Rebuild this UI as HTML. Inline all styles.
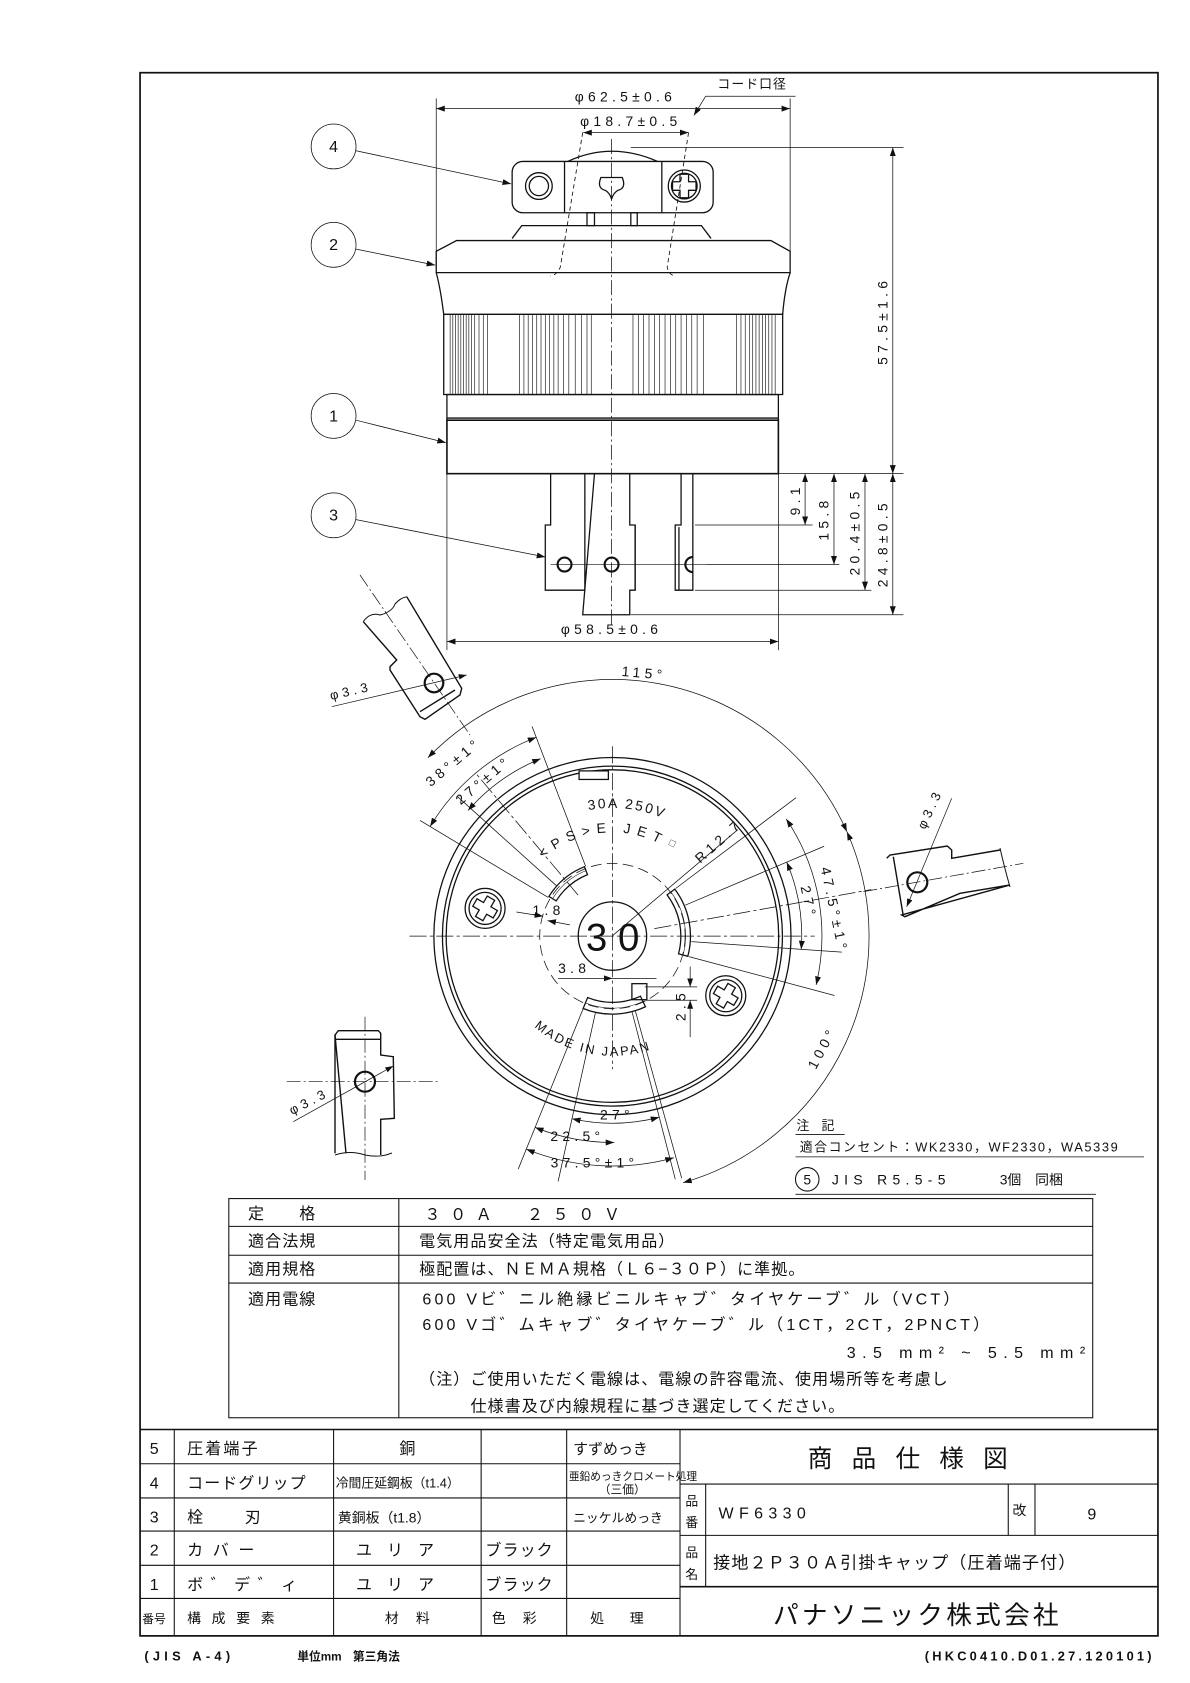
<!DOCTYPE html>
<html><head><meta charset="utf-8"><style>
html,body{margin:0;padding:0;background:#fff}
svg{display:block}
text{font-family:"Liberation Sans","Noto Sans CJK JP",sans-serif;fill:#111}
.d{font-size:13px;letter-spacing:4px}
.t{font-size:15px;letter-spacing:1px}
</style></head><body>
<svg width="1190" height="1683" viewBox="0 0 1190 1683" xmlns="http://www.w3.org/2000/svg">
<defs>
<marker id="a" viewBox="0 0 10 10" refX="10" refY="5" markerWidth="8" markerHeight="8" markerUnits="userSpaceOnUse" orient="auto-start-reverse"><path d="M0,1.5 L10,5 L0,8.5 z" fill="#111"/></marker>
<path id="pj" d="M475.8,931.5 A112,112 0 0 0 669.8,931.5"/>
<path id="p30" d="M488,790.7 A120,120 0 0 1 657.6,790.7"/>
<path id="pps" d="M498.5,813.1 A97,97 0 0 1 647.1,813.1"/>
</defs>
<g transform="scale(1.0692)" fill="none" stroke="#111" stroke-width="1">
<rect x="131" y="68" width="952" height="1462" stroke-width="1.6"/>

<g stroke-width="1.2">
<path d="M531,151 Q572,132 615,151"/>
<rect x="479" y="151" width="188" height="48" rx="10"/>
<line x1="528" y1="151" x2="528" y2="199"/><line x1="619" y1="151" x2="619" y2="199"/>
<circle cx="504" cy="174" r="12.5"/><circle cx="504" cy="174" r="9"/>
<circle cx="640" cy="174" r="15"/><circle cx="640" cy="174" r="12"/>
<path d="M636,163 h8 v7 h7 v8 h-7 v7 h-8 v-7 h-7 v-8 h7 z"/>
<path d="M562,166 Q558,176 566,178 Q570,180 572,186 Q574,180 578,178 Q586,176 582,166 z"/>
<rect x="549" y="199" width="7" height="12"/><rect x="590" y="199" width="6" height="12"/>
<path d="M479,223 L488,211 L656,211 L665,223"/>
<path d="M408,255 L408,235 L427,225 L721,225 L739,235 L739,255 Z"/>
<path d="M408,255 Q412,270 415,294 L732,294 Q734,270 739,255"/>
<rect x="415" y="294" width="317" height="75"/>
<rect x="418" y="369" width="310" height="24"/>
<line x1="418" y1="391" x2="728" y2="391"/>
<rect x="418" y="393" width="310" height="50" stroke-width="1.5"/>
</g>
<g stroke-width="0.6">
<path d="M421,294v75M423.5,294v75M426,294v75M428.5,294v75M431,294v75M433.5,294v75M436,294v75M438.5,294v75M441,294v75M444,294v75M448,294v75M452,294v75M456,294v75
M486,294v75M490,294v75M494,294v75M498,294v75M502,294v75M506,294v75M510,294v75M514,294v75M518,294v75M522,294v75M527,294v75M532,294v75M538,294v75M544,294v75M549,294v75M553,294v75
M592,294v75M597,294v75M602,294v75M607,294v75M612,294v75M617,294v75M622,294v75M627,294v75M632,294v75M637,294v75M642,294v75M647,294v75M652,294v75M658,294v75
M689,294v75M693,294v75M697,294v75M701,294v75M704,294v75M707,294v75M710,294v75M713,294v75M716,294v75M719,294v75M722,294v75M725,294v75"/>
</g>
<path d="M545,124 L524,250 Q520,258 515,258" stroke-dasharray="4,3" stroke-width="0.8"/>
<path d="M644,124 L624,250 Q626,258 632,258" stroke-dasharray="4,3" stroke-width="0.8"/>
<line x1="572" y1="130" x2="572" y2="585" stroke-dasharray="14,3,2,3" stroke-width="0.7"/>
<g stroke-width="1.2">
<path d="M515,443 V491 H510 V552 H547 V443"/>
<path d="M556,443 L545,575 H589 V552 H594 V491 H589 V443"/>
<line x1="594" y1="491" x2="594" y2="552"/>
<path d="M637,443 V491 H631.5 V552 H648 V443"/>
<line x1="635" y1="493" x2="635" y2="552"/>
<circle cx="528" cy="528" r="6.5" stroke-width="2"/>
<circle cx="572" cy="528" r="6.5" stroke-width="2"/>
<path d="M648,521 A7,7 0 0 0 648,535" stroke-width="2"/>
</g>
<line x1="515" y1="528" x2="660" y2="528" stroke-width="0.6"/>
<g stroke-width="0.7">
<line x1="408" y1="92" x2="408" y2="250"/><line x1="739" y1="92" x2="739" y2="250"/>
<line x1="408" y1="101.6" x2="739" y2="101.6" marker-start="url(#a)" marker-end="url(#a)"/>
<line x1="545.5" y1="124" x2="644" y2="124" marker-start="url(#a)" marker-end="url(#a)"/>
<path d="M744,90 H660 L649,108" marker-end="url(#a)"/>
<line x1="590" y1="138" x2="845" y2="138"/><line x1="720" y1="443" x2="845" y2="443"/>
<line x1="835" y1="138" x2="835" y2="443" marker-start="url(#a)" marker-end="url(#a)"/>
<line x1="418" y1="443" x2="418" y2="608"/><line x1="728" y1="443" x2="728" y2="608"/>
<line x1="418" y1="600" x2="728" y2="600" marker-start="url(#a)" marker-end="url(#a)"/>
<line x1="650" y1="491" x2="760" y2="491"/><line x1="660" y1="528" x2="785" y2="528"/>
<line x1="650" y1="552" x2="815" y2="552"/><line x1="590" y1="575" x2="845" y2="575"/>
<line x1="753" y1="443" x2="753" y2="491" marker-start="url(#a)" marker-end="url(#a)"/>
<line x1="780" y1="443" x2="780" y2="528" marker-start="url(#a)" marker-end="url(#a)"/>
<line x1="809" y1="443" x2="809" y2="552" marker-start="url(#a)" marker-end="url(#a)"/>
<line x1="835" y1="443" x2="835" y2="575" marker-start="url(#a)" marker-end="url(#a)"/>
<circle cx="312" cy="137" r="21"/><circle cx="312" cy="229" r="21"/><circle cx="312" cy="389" r="21"/><circle cx="312" cy="482" r="21"/>
<line x1="333" y1="141" x2="478" y2="172" marker-end="url(#a)"/>
<line x1="333" y1="233" x2="407" y2="248" marker-end="url(#a)"/>
<line x1="333" y1="393" x2="417" y2="414" marker-end="url(#a)"/>
<line x1="333" y1="486" x2="510" y2="521" marker-end="url(#a)"/>
</g>

<g stroke-width="1.2">
<circle cx="572.8" cy="875.5" r="167"/>
<circle cx="572.8" cy="875.5" r="159"/>
<circle cx="572.8" cy="875.5" r="155.5"/>
<rect x="541.6" y="721" width="27.4" height="8" fill="#fff"/>
<circle cx="572.8" cy="875.5" r="32"/>
<path d="M513.4,838.4 A70,70 0 0 1 546.6,810.6 L549.5,818 A62,62 0 0 0 520.2,842.6 Z"/>
<path d="M631.1,831.6 A73,73 0 0 1 643.3,894.4 L634.6,892.1 A64,64 0 0 0 623.9,837 Z"/>
<path d="M603.7,941.6 A73,73 0 0 1 545.4,943.2 L549.6,933 A62,62 0 0 0 599,931.7 Z"/>
<rect x="591" y="920" width="14" height="15"/>
<circle cx="453.7" cy="849.6" r="18.7"/><circle cx="453.7" cy="849.6" r="15"/>
<path d="M449.7,838.6 h8 v7 h7 v8 h-7 v7 h-8 v-7 h-7 v-8 h7 z" transform="rotate(30 453.7 849.6)"/>
<circle cx="678.8" cy="931.3" r="18.7"/><circle cx="678.8" cy="931.3" r="15"/>
<path d="M674.8,920.3 h8 v7 h7 v8 h-7 v7 h-8 v-7 h-7 v-8 h7 z" transform="rotate(30 678.8 931.3)"/>
</g>
<g stroke-width="0.5">
<path d="M516.8,840.5 A66,66 0 0 1 548,814.3"/><path d="M627.5,834.3 A68.5,68.5 0 0 1 639,893"/><path d="M601.4,936.6 A67.5,67.5 0 0 1 547.5,938"/>
</g>
<circle cx="572.8" cy="875.5" r="68" stroke-dasharray="10,5" stroke-width="0.7"/>
<g stroke-width="0.7" stroke-dasharray="16,3,3,3">
<line x1="383" y1="875.5" x2="762" y2="875.5"/><line x1="572.8" y1="698" x2="572.8" y2="1000"/>
<line x1="540.7" y1="837.2" x2="444.2" y2="722.3"/>
<line x1="612" y1="868.5" x2="815" y2="832"/>
</g>
<g stroke-width="0.7">
<path d="M400.2,708.7 A240,240 0 0 1 792.1,777.9" marker-start="url(#a)" marker-end="url(#a)"/>
<path d="M792.1,777.9 A240,240 0 0 1 639,1106.1" marker-start="url(#a)" marker-end="url(#a)"/>
<line x1="512.8" y1="839.4" x2="392.8" y2="767.3"/><line x1="520.8" y1="828.7" x2="427.9" y2="745"/><line x1="547.7" y1="810.2" x2="497.6" y2="679.4"/>
<path d="M402.3,773 A199,199 0 0 1 501.6,689.6" marker-start="url(#a)" marker-end="url(#a)"/>
<path d="M437.7,758.1 A179,179 0 0 1 505.7,709.6" marker-start="url(#a)" marker-end="url(#a)"/>
<line x1="631.9" y1="831" x2="744.5" y2="746.1"/><line x1="640.9" y1="846.6" x2="770.8" y2="791.5"/><line x1="646.6" y1="880.7" x2="787.3" y2="890.5"/><line x1="644.3" y1="894.7" x2="780.5" y2="931.1"/>
<path d="M735.3,765.9 A196,196 0 0 1 763.3,921.2" marker-start="url(#a)" marker-end="url(#a)"/>
<path d="M735.8,806.3 A177,177 0 0 1 749.4,887.9" marker-start="url(#a)" marker-end="url(#a)"/>
<line x1="545.5" y1="943.2" x2="484.7" y2="1093.4"/><line x1="557" y1="946.7" x2="522" y2="1104.9"/><line x1="591.1" y1="946.2" x2="631.6" y2="1103"/><line x1="594.3" y1="945.8" x2="637.6" y2="1102"/>
<path d="M630.2,1082.8 A215,215 0 0 1 492.2,1074.8" marker-start="url(#a)" marker-end="url(#a)"/>
<path d="M574.5,1068.5 A193,193 0 0 1 500.4,1054.4" marker-start="url(#a)" marker-end="url(#a)"/>
<path d="M616.6,1044.9 A175,175 0 0 1 535,1046.3" marker-start="url(#a)" marker-end="url(#a)"/>
<line x1="573" y1="875" x2="690" y2="776"/>
<line x1="483" y1="853" x2="508" y2="857" marker-end="url(#a)"/><line x1="533" y1="865" x2="512" y2="861" marker-end="url(#a)"/>
<line x1="522" y1="915" x2="572.8" y2="915" marker-end="url(#a)"/><line x1="572.8" y1="915" x2="614" y2="915"/>
<line x1="603" y1="923" x2="652" y2="923"/><line x1="603" y1="935.5" x2="652" y2="935.5"/>
<line x1="645.5" y1="904" x2="645.5" y2="923" marker-end="url(#a)"/><line x1="645.5" y1="970" x2="645.5" y2="935.5" marker-end="url(#a)"/>
</g>
</g>

<g fill="none" stroke="#111" stroke-width="1.4">
<path d="M363.3,621.7 L396.7,660 L390,666.7 L390,670 L420,716.7 L425,719.3 L460,695 L461.7,688.3 L406.7,596.7"/>
<path d="M363.3,621.7 Q370,612 380,615 Q392,612 395,604 Q400,598 406.7,596.7" stroke-width="1"/>
<line x1="420" y1="711.7" x2="455" y2="690"/>
<circle cx="434" cy="683" r="9.3" stroke-width="2.2"/>
<path d="M886.7,858.3 L890,855 L947.3,846 L951.7,850 L951.7,858.3 L1000,850 M1010,885 L960,893.3 L905,916.7 L901.7,915 Z"/>
<path d="M1000,848 Q1004,866 1010,887" stroke-width="1"/>
<line x1="893.3" y1="856.7" x2="903.3" y2="916"/>
<circle cx="917.3" cy="882.3" r="10" stroke-width="2.2"/>
<path d="M335,1153.3 L335,1035 L338.3,1030.7 L378.3,1030.7 L380.7,1033.3 L380.7,1055 L393.3,1056.7 L394.3,1118.3 L380.7,1119.3 L380.7,1155"/>
<path d="M335,1035 L346,1153.3"/>
<path d="M335,1155 Q350,1150 365,1155 Q380,1158 392,1153" stroke-width="1"/>
<line x1="336" y1="1039.3" x2="380" y2="1039.3"/>
<circle cx="365" cy="1081.7" r="10" stroke-width="2.2"/>
</g>
<g fill="none" stroke="#111" stroke-width="0.7">
<line x1="360" y1="575" x2="470" y2="735" stroke-dasharray="14,3,2,3"/>
<line x1="331.7" y1="706.7" x2="466.7" y2="675" marker-end="url(#a)"/>
<line x1="863.3" y1="891.7" x2="1023.3" y2="863.3" stroke-dasharray="14,3,2,3"/>
<line x1="951.7" y1="798.3" x2="906.7" y2="906.7" marker-end="url(#a)"/>
<line x1="286.7" y1="1081.7" x2="440" y2="1081.7" stroke-dasharray="14,3,2,3"/>
<line x1="365" y1="1016.7" x2="365" y2="1180" stroke-dasharray="14,3,2,3"/>
<line x1="293.3" y1="1121.7" x2="393.3" y2="1066" marker-end="url(#a)"/>
</g>
<text class="d" x="331" y="700" transform="rotate(-13 331 700)">φ3.3</text>
<text class="d" x="925" y="830" transform="rotate(-65 925 830)">φ3.3</text>
<text class="d" x="292" y="1115" transform="rotate(-27 292 1115)">φ3.3</text>

<g transform="scale(1.0692)">
<text class="d" x="585" y="95" text-anchor="middle">φ62.5±0.6</text>
<text class="d" x="590" y="118" text-anchor="middle">φ18.7±0.5</text>
<text x="671" y="83" style="font-size:12px;letter-spacing:1px">コード口径</text>
<text class="d" x="572" y="593" text-anchor="middle">φ58.5±0.6</text>
<text class="d" x="830" y="300" text-anchor="middle" transform="rotate(-90 830 300)">57.5±1.6</text>
<text class="d" x="748" y="467" text-anchor="middle" transform="rotate(-90 748 467)">9.1</text>
<text class="d" x="775" y="485" text-anchor="middle" transform="rotate(-90 775 485)">15.8</text>
<text class="d" x="804" y="497" text-anchor="middle" transform="rotate(-90 804 497)">20.4±0.5</text>
<text class="d" x="830" y="508" text-anchor="middle" transform="rotate(-90 830 508)">24.8±0.5</text>
<g style="font-size:15px" text-anchor="middle"><text x="312" y="142">4</text><text x="312" y="234">2</text><text x="312" y="394">1</text><text x="312" y="487">3</text></g>
<text class="d" x="602" y="634" text-anchor="middle" transform="rotate(5 602 634)">115°</text>
<text class="d" x="427" y="716" text-anchor="middle" transform="rotate(-40 427 716)">38°±1°</text>
<text class="d" x="455" y="733" text-anchor="middle" transform="rotate(-40 455 733)">27°±1°</text>
<text style="font-size:13px;letter-spacing:2px"><textPath href="#p30" startOffset="38%">30A 250V</textPath></text>
<text style="font-size:13px;letter-spacing:6px"><textPath href="#pps" startOffset="8%">&lt;PS&gt;E JET</textPath></text>
<text class="d" x="655" y="808" transform="rotate(-42 655 808)">R12.7</text>
<text style="font-size:8px" x="626" y="793" transform="rotate(-20 626 793)">◇</text>
<text class="d" x="498" y="856">1.8</text>
<text class="d" x="522" y="910">3.8</text>
<text class="d" x="641" y="955" transform="rotate(-90 641 955)">2.5</text>
<text style="font-size:12px;letter-spacing:2px"><textPath href="#pj" startOffset="16%">MADE IN JAPAN</textPath></text>
<text style="font-size:36px;letter-spacing:10px" x="578" y="889" text-anchor="middle">30</text>
<text class="d" x="776" y="852" text-anchor="middle" transform="rotate(78 776 852)">47.5°±1°</text>
<text class="d" x="752" y="845" text-anchor="middle" transform="rotate(78 752 845)">27°</text>
<text class="d" x="773" y="982" text-anchor="middle" transform="rotate(-62 773 982)">100°</text>
<text class="d" x="577" y="1047" text-anchor="middle">27°</text>
<text class="d" x="540" y="1067" text-anchor="middle">22.5°</text>
<text class="d" x="556" y="1092" text-anchor="middle">37.5°±1°</text>
<text x="745" y="1057" style="font-size:12px;letter-spacing:4px">注 記</text>
<line x1="744" y1="1061" x2="790" y2="1061" stroke="#111" stroke-width="0.8"/>
<text x="748" y="1077" style="font-size:12px;letter-spacing:1.5px">適合コンセント：WK2330，WF2330，WA5339</text>
<line x1="744" y1="1082" x2="1070" y2="1082" stroke="#111" stroke-width="0.8"/>
<circle cx="755" cy="1103" r="11" fill="none" stroke="#111"/>
<text x="755" y="1108" text-anchor="middle" style="font-size:13px">5</text>
<text x="778" y="1108" style="font-size:13px;letter-spacing:5px">JIS R5.5-5</text>
<text x="935" y="1108" style="font-size:13px">3個　同梱</text>
<line x1="744" y1="1117" x2="1025" y2="1117" stroke="#111" stroke-width="0.8"/>

<g fill="none" stroke="#111" stroke-width="1">
<rect x="214" y="1121" width="808" height="205"/>
<line x1="373" y1="1121" x2="373" y2="1326"/>
<line x1="214" y1="1147" x2="1022" y2="1147"/><line x1="214" y1="1174" x2="1022" y2="1174"/><line x1="214" y1="1200" x2="1022" y2="1200"/>
</g>
<g>
<text class="t" x="232" y="1140">定　　格</text>
<text class="t" x="232" y="1166">適合法規</text>
<text class="t" x="232" y="1192">適用規格</text>
<text class="t" x="232" y="1220">適用電線</text>
<text class="t" x="397" y="1141" style="letter-spacing:9px">３０Ａ　２５０Ｖ</text>
<text class="t" x="392" y="1166">電気用品安全法（特定電気用品）</text>
<text class="t" x="392" y="1192">極配置は、ＮＥＭＡ規格（Ｌ６−３０Ｐ）に準拠。</text>
<text class="t" x="395" y="1220" style="letter-spacing:3px">600 Vビ゛ニル絶縁ビニルキャブ゛タイヤケーブ゛ル（VCT）</text>
<text class="t" x="395" y="1244" style="letter-spacing:3px">600 Vゴ゛ムキャブ゛タイヤケーブ゛ル（1CT，2CT，2PNCT）</text>
<text class="t" x="792" y="1270" style="letter-spacing:6px">3.5 mm² ~ 5.5 mm²</text>
<text class="t" x="392" y="1295">（注）ご使用いただく電線は、電線の許容電流、使用場所等を考慮し</text>
<text class="t" x="440" y="1320">仕様書及び内線規程に基づき選定してください。</text>
</g>

<g fill="none" stroke="#111" stroke-width="1">
<line x1="131" y1="1337" x2="1083" y2="1337" stroke-width="1.4"/>
<line x1="131" y1="1369" x2="636" y2="1369"/><line x1="131" y1="1401" x2="636" y2="1401"/><line x1="131" y1="1432" x2="636" y2="1432"/><line x1="131" y1="1464" x2="636" y2="1464"/><line x1="131" y1="1495" x2="636" y2="1495"/>
<line x1="163" y1="1337" x2="163" y2="1530"/><line x1="312" y1="1337" x2="312" y2="1530"/><line x1="450" y1="1337" x2="450" y2="1530"/><line x1="530" y1="1337" x2="530" y2="1530"/><line x1="636" y1="1337" x2="636" y2="1530"/>
<line x1="636" y1="1388" x2="1083" y2="1388"/><line x1="636" y1="1436" x2="1083" y2="1436"/><line x1="636" y1="1484" x2="1083" y2="1484" stroke-width="1.6"/>
<line x1="660" y1="1388" x2="660" y2="1484"/><line x1="943" y1="1388" x2="943" y2="1436"/><line x1="968" y1="1388" x2="968" y2="1436"/>
</g>
<g style="font-size:15px">
<text x="140" y="1360">5</text><text x="140" y="1392">4</text><text x="140" y="1424">3</text><text x="140" y="1455">2</text><text x="140" y="1487">1</text>
<text x="133" y="1518" style="font-size:11px">番号</text>
<text x="175" y="1360" style="letter-spacing:2px">圧着端子</text>
<text x="175" y="1392" style="letter-spacing:1px">コードグリップ</text>
<text x="175" y="1424" style="letter-spacing:12px">栓　刃</text>
<text x="175" y="1455" style="letter-spacing:9px">カバー</text>
<text x="175" y="1487" style="letter-spacing:7px">ボ゛デ゛ィ</text>
<text x="175" y="1518" style="font-size:13px;letter-spacing:10px">構成要素</text>
<text x="381" y="1360" text-anchor="middle">銅</text>
<text x="314" y="1391" style="font-size:12px">冷間圧延鋼板（t1.4）</text>
<text x="316" y="1424" style="font-size:13px">黄銅板（t1.8）</text>
<text x="333" y="1455" style="letter-spacing:14px">ユリア</text>
<text x="333" y="1487" style="letter-spacing:14px">ユリア</text>
<text x="360" y="1518" style="font-size:13px;letter-spacing:16px">材料</text>
<text x="454" y="1455" style="letter-spacing:1px">ブラック</text>
<text x="454" y="1487" style="letter-spacing:1px">ブラック</text>
<text x="460" y="1518" style="font-size:13px;letter-spacing:16px">色彩</text>
<text x="536" y="1360" style="font-size:14px">すずめっき</text>
<text x="532" y="1384" style="font-size:10px">亜鉛めっきクロメート処理</text>
<text x="560" y="1397" style="font-size:11px">（三価）</text>
<text x="536" y="1424" style="font-size:12px">ニッケルめっき</text>
<text x="552" y="1518" style="font-size:13px;letter-spacing:24px">処理</text>
<text x="858" y="1372" text-anchor="middle" style="font-size:23px;letter-spacing:18px">商品仕様図</text>
<text x="641" y="1408" style="font-size:12px">品</text><text x="641" y="1428" style="font-size:12px">番</text>
<text x="641" y="1456" style="font-size:12px">品</text><text x="641" y="1477" style="font-size:12px">名</text>
<text x="672" y="1420" style="letter-spacing:5px">WF6330</text>
<text x="947" y="1417" style="font-size:13px">改</text>
<text x="1017" y="1421">9</text>
<text x="667" y="1467" style="font-size:16px;letter-spacing:1px">接地２Ｐ３０Ａ引掛キャップ（圧着端子付）</text>
<text x="858" y="1519" text-anchor="middle" style="font-size:24px;letter-spacing:3px">パナソニック株式会社</text>
</g>
<text x="135" y="1553" style="font-size:12px;font-weight:bold;letter-spacing:4px">(JIS A-4)</text>
<text x="278" y="1553" style="font-size:11px;font-weight:bold">単位mm</text>
<text x="330" y="1553" style="font-size:11px;font-weight:bold">第三角法</text>
<text x="1080" y="1553" text-anchor="end" style="font-size:12px;font-weight:bold;letter-spacing:3px">(HKC0410.D01.27.120101)</text>
</g>
</svg>
</body></html>
